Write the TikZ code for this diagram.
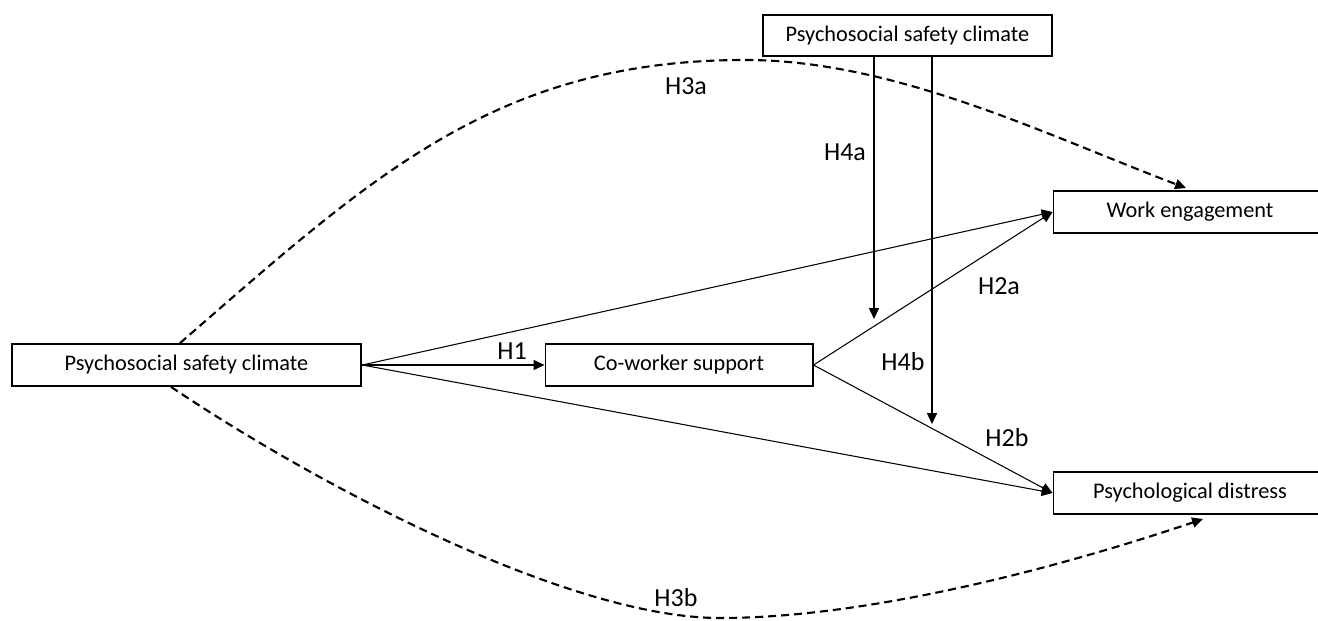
\documentclass[tikz,border=0pt]{standalone}
\usepackage{fontspec}
\setmainfont{Carlito}
\usepackage{tikz}
\usetikzlibrary{arrows.meta}

\begin{document}
\begin{tikzpicture}[x=0.02cm, y=-0.02cm,
  box/.style={draw, line width=1.1pt, minimum height=23.8pt, inner sep=0pt,
    font=\fontsize{12.7}{15}\selectfont},
  conn/.style={line width=0.6pt, -{Triangle[length=6.2pt, width=5.7pt]}},
  hyp/.style={line width=1.2pt, dash pattern=on 4.6pt off 2.8pt,
    -{Triangle[length=6.2pt, width=5.7pt]}},
  lab/.style={font=\fontsize{14.8}{18}\selectfont}]

  \useasboundingbox (0, 0) rectangle (1318, 621);

  % boxes
  \node[box, minimum width=199pt] (psc) at (186.5, 365) {Psychosocial safety climate};
  \node[box, minimum width=152pt] (cws) at (679, 365) {Co-worker support};
  \node[box, minimum width=165pt] (mod) at (907.5, 35.5) {Psychosocial safety climate};
  \node[box, minimum width=155.4pt] (we) at (1190, 212) {Work engagement};
  \node[box, minimum width=155.4pt] (pd) at (1190, 493) {Psychological distress};

  % direct paths
  \draw[conn] (psc.east) -- (cws.west);
  \draw[conn] (psc.east) -- (we.west);
  \draw[conn] (psc.east) -- (pd.west);
  \draw[conn] (cws.east) -- (we.west);
  \draw[conn] (cws.east) -- (pd.west);

  % moderation
  \coordinate (m1) at (874, 319);
  \coordinate (m2) at (932, 424);
  \draw[conn] (mod.south -| m1) -- (m1);
  \draw[conn] (mod.south -| m2) -- (m2);

  % indirect paths
  \coordinate (t1) at (1186, 188);
  \coordinate (t2) at (1203, 519);
  \draw[hyp] (psc.north -| 180, 0) .. controls (370, 178) and (495, 60) .. (745, 60)
    .. controls (895, 60) and (1046, 135) .. (t1);
  \draw[hyp] (psc.south -| 171, 0) .. controls (320, 487) and (570, 618) .. (720, 618)
    .. controls (870, 618) and (1061, 567) .. (t2);

  % labels
  \node[lab] (h1) at (512, 351) {H1};
  \node[lab] (h2a) at (999, 286) {H2a};
  \node[lab] (h2b) at (1007, 438) {H2b};
  \node[lab] (h3a) at (686, 86) {H3a};
  \node[lab] (h3b) at (676, 598) {H3b};
  \node[lab] (h4a) at (845, 152) {H4a};
  \node[lab] (h4b) at (903, 362) {H4b};

\end{tikzpicture}
\end{document}
